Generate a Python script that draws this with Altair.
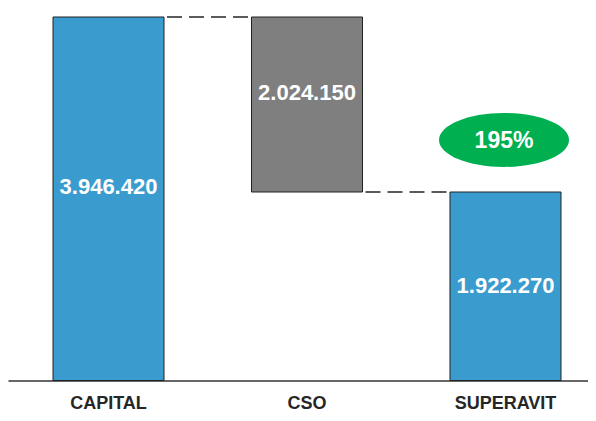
import altair as alt
import pandas as pd

categories = ["CAPITAL", "CSO", "SUPERAVIT"]
bar_start = [0, 3946420, 0]
bar_end = [3946420, 1922270, 1922270]
bar_value = [3946420, 2024150, 1922270]
bar_color = ["#3A9BCE", "#7F7F7F", "#3A9BCE"]

conn_from = ["CAPITAL", "CSO"]
conn_to = ["CSO", "SUPERAVIT"]
conn_level = [3946420, 1922270]

badge_cat = ["SUPERAVIT"]
badge_level = [1922270]
badge_text = ["195%"]

bars = pd.DataFrame({
    "cat": categories,
    "start": bar_start,
    "end": bar_end,
    "mid": [(a + b) / 2 for a, b in zip(bar_start, bar_end)],
    "label": [f"{v:,}".replace(",", ".") for v in bar_value],
    "color": bar_color,
})
conns = pd.DataFrame({"from": conn_from, "to": conn_to, "level": conn_level})
badge = pd.DataFrame({"cat": badge_cat, "level": badge_level, "text": badge_text})

FONT = "Liberation Sans"
xscale = alt.Scale(domain=categories, paddingInner=0.4408, paddingOuter=0.1814, align=0.625)
yscale = alt.Scale(domain=[0, 3706900], clamp=True, nice=False, zero=True)

xaxis = alt.Axis(title=None, ticks=False, labelAngle=0, labelFont=FONT, labelFontSize=18,
                 labelFontWeight="bold", labelColor="#262626", labelBaseline="alphabetic",
                 labelPadding=28, domainColor="#333333", domainWidth=1.5, grid=False)

bar_layer = alt.Chart(bars).mark_bar(stroke="#222222", strokeWidth=1).encode(
    x=alt.X("cat:N", scale=xscale, axis=xaxis, sort=categories),
    y=alt.Y("start:Q", scale=yscale, axis=None),
    y2="end:Q",
    fill=alt.Fill("color:N", scale=None),
)

label_layer = alt.Chart(bars).mark_text(font=FONT, fontSize=22, fontWeight="bold",
                                        color="white", baseline="middle").encode(
    x=alt.X("cat:N", sort=categories),
    y=alt.Y("mid:Q"),
    text="label:N",
)

conn_layer = alt.Chart(conns).mark_rule(strokeDash=[15, 7], strokeDashOffset=19,
                                        color="#262626", strokeWidth=1.5).encode(
    x=alt.X("from:N", bandPosition=1, sort=categories),
    x2=alt.X2("to:N", bandPosition=0),
    y=alt.Y("level:Q"),
)

ellipse_path = "M -1 0 A 1 0.415 0 1 1 1 0 A 1 0.415 0 1 1 -1 0 Z"
badge_shape = alt.Chart(badge).mark_point(shape=ellipse_path, size=16900, filled=True,
                                          fill="#00B050", opacity=1, strokeWidth=0,
                                          yOffset=-52, xOffset=-1.5).encode(
    x=alt.X("cat:N", sort=categories),
    y=alt.Y("level:Q"),
)
badge_label = alt.Chart(badge).mark_text(font=FONT, fontSize=23, fontWeight="bold",
                                         color="white", baseline="middle",
                                         yOffset=-51, xOffset=-1.5).encode(
    x=alt.X("cat:N", sort=categories),
    y=alt.Y("level:Q"),
    text="text:N",
)

chart = alt.layer(bar_layer, conn_layer, label_layer, badge_shape, badge_label).properties(
    width=580, height=363.5,
    padding={"left": 0, "top": 9, "right": 0, "bottom": 32.5},
    autosize=alt.AutoSizeParams(type="none"),
    background="white",
).configure_view(stroke=None)

chart.save("out.html", embed_options={"renderer": "svg", "actions": False})
